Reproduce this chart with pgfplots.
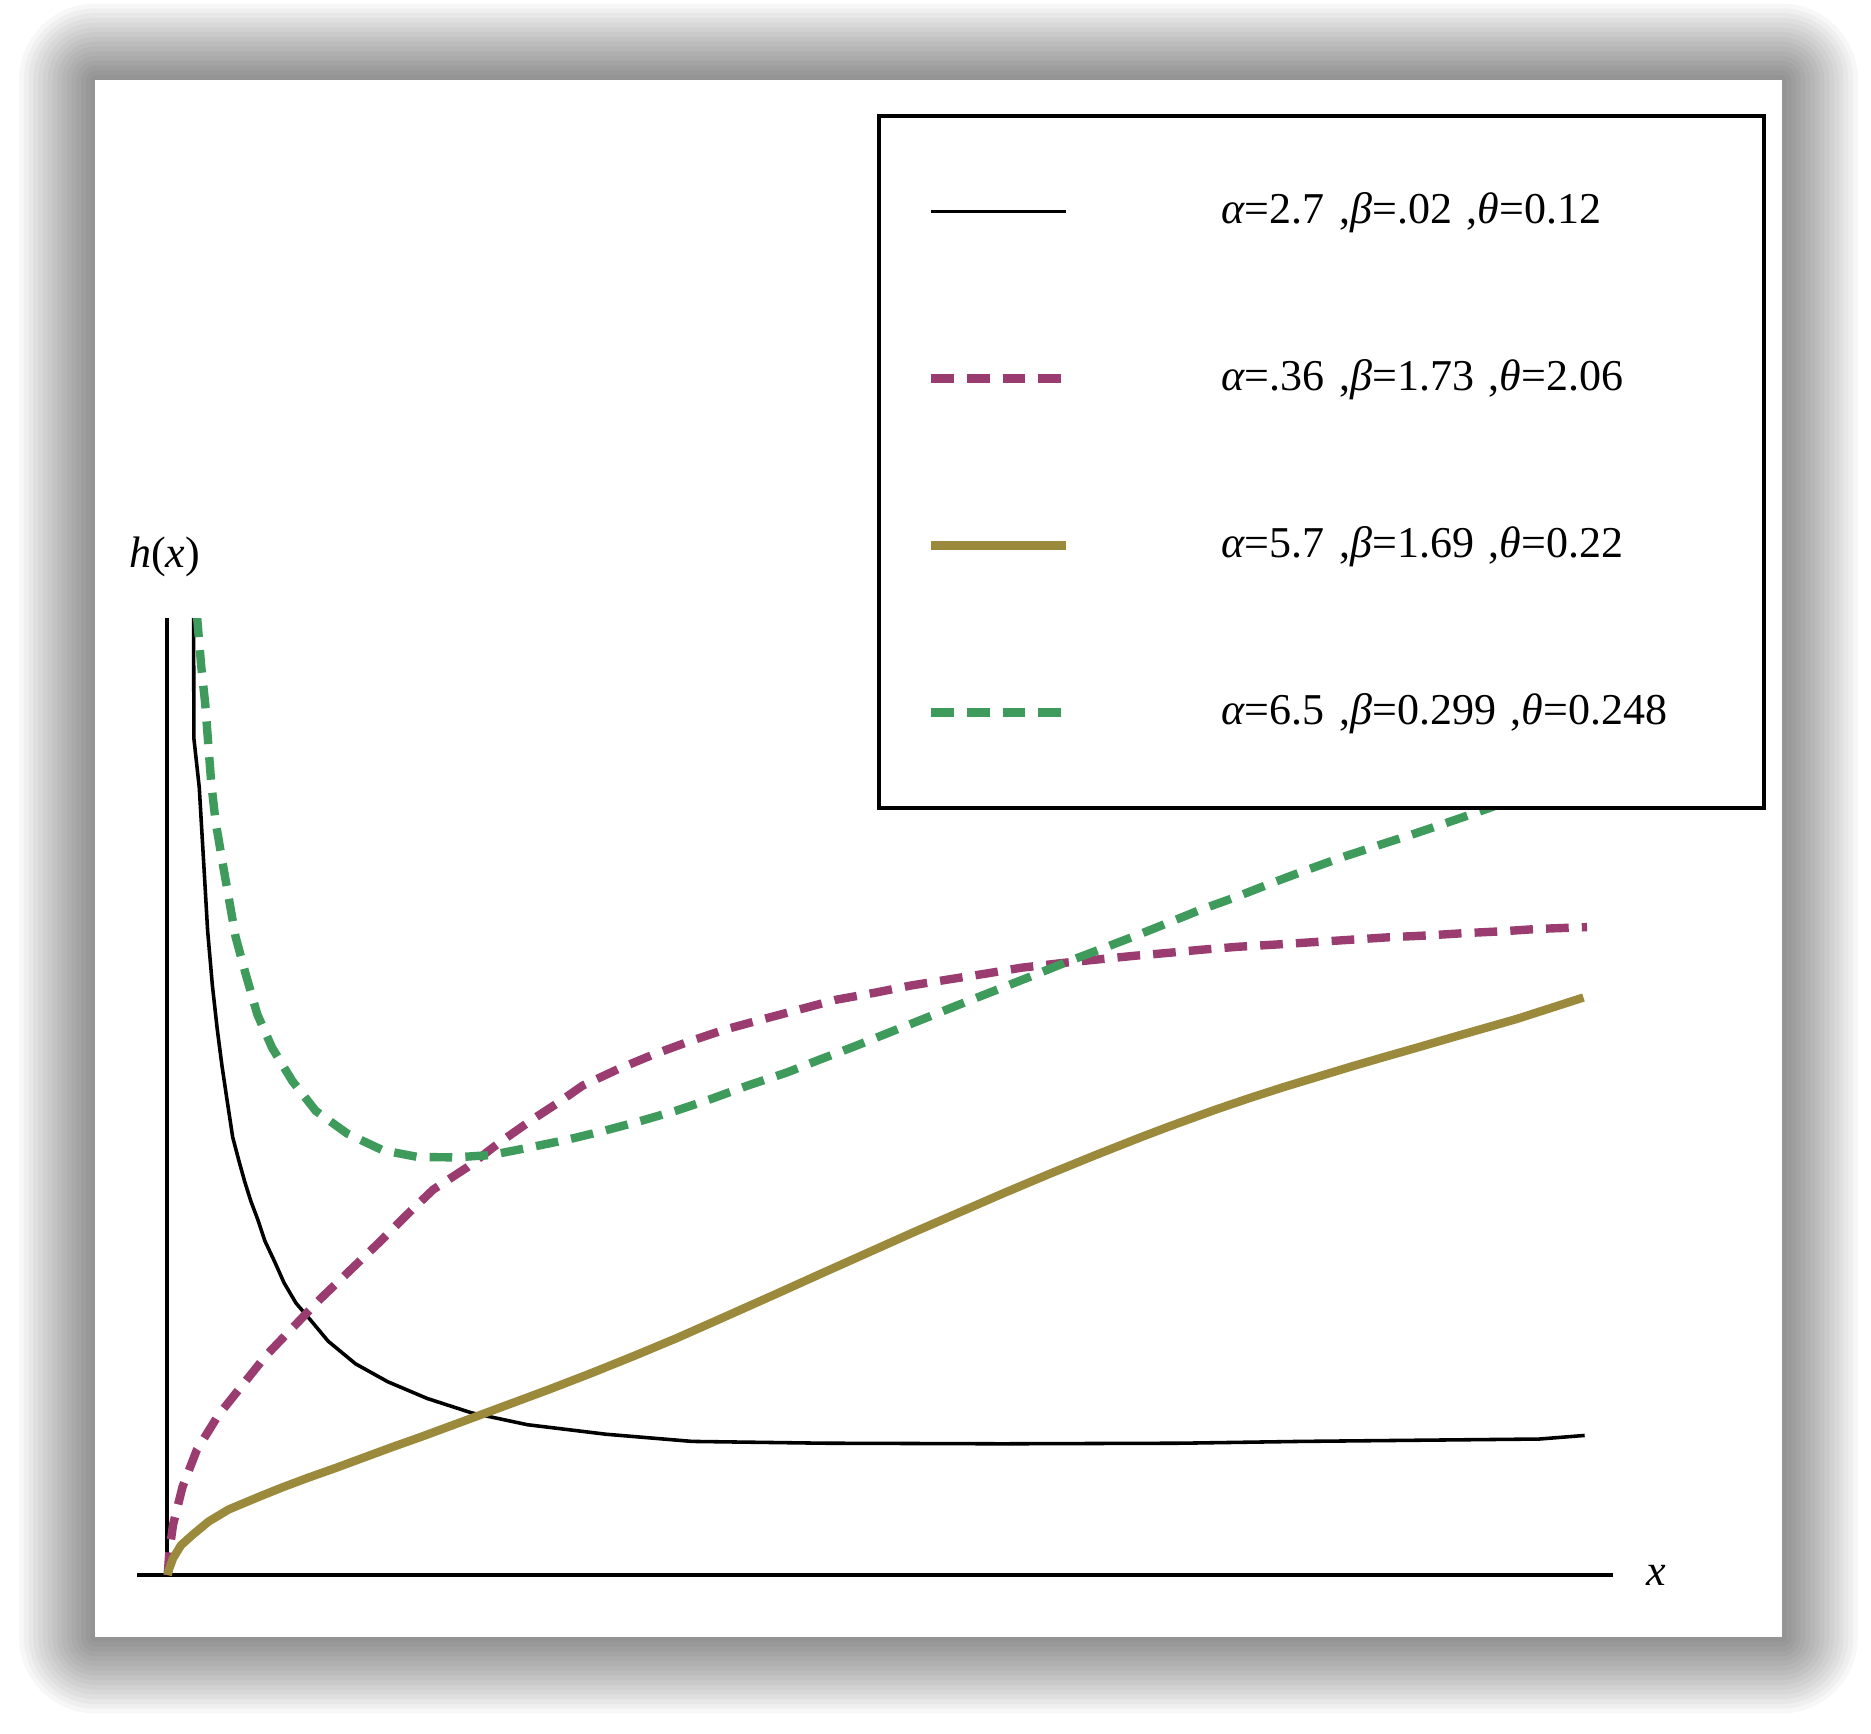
\documentclass[border=0pt]{standalone}
\usepackage{fontspec}
\setmainfont{Liberation Serif}
\usepackage{pgfplots}
\pgfplotsset{compat=1.18}
\definecolor{hmag}{HTML}{9A3C6F}
\definecolor{holive}{HTML}{9B8A3C}
\definecolor{hgreen}{HTML}{3E9B5C}
\newcommand{\gr}[1]{\textit{#1}}
\newcommand{\lfont}{\fontsize{10.5}{12}\selectfont}

\begin{document}
\begin{tikzpicture}
% page and card with a soft shadow
\fill[white] (-1.15,-1.33) rectangle (14.53,13.2);
\foreach \i in {1,...,16}{
  \pgfmathsetmacro{\dd}{0.04*\i}
  \fill[black, opacity=0.03, rounded corners=\dd cm] ({-0.35-\dd},{-0.52-\dd}) rectangle ({13.78+\dd},{12.53+\dd});
}
\fill[white] (-0.35,-0.52) rectangle (13.78,12.53);

\begin{axis}[
  scale only axis, width=12.37cm, height=8.02cm,
  xmin=-0.25, xmax=12.12, ymin=0, ymax=8.02,
  axis lines=middle, axis line style={line width=1.1pt, -},
  xtick=\empty, ytick=\empty,
  xlabel={\textit{x}}, ylabel={\textit{h}(\textit{x})},
  xlabel style={at={(axis description cs:1.029,0)}, anchor=center, font=\lfont},
  ylabel style={at={(axis description cs:0.0186,1.064)}, anchor=center, font=\lfont},
  legend image code/.code={
    \path[draw=none, fill=none] (0cm,-0.7cm) rectangle (2.31cm,0.7cm);
    \draw[#1] (0cm,0cm) -- (1.13cm,0cm);
  },
  legend cell align=left,
  legend style={at={(axis description cs:0.5012,1.527)}, anchor=north west,
    draw=black, line width=1pt, fill=white, inner xsep=0.4cm, inner ysep=0.1cm,
    row sep=0pt, font=\lfont,
    nodes={inner xsep=0.12cm, text width=4.03cm, align=left}},
]
\addplot[black, line width=0.85pt] coordinates {
 (0.222,8.20) (0.225,7.01) (0.27,6.60) (0.31,5.92) (0.34,5.40) (0.38,4.94)
 (0.42,4.58) (0.46,4.27) (0.50,4.00) (0.55,3.67) (0.60,3.48) (0.65,3.30)
 (0.70,3.14) (0.76,2.98) (0.82,2.80) (0.90,2.63) (0.98,2.45) (1.08,2.28)
 (1.20,2.14) (1.35,1.96) (1.58,1.77) (1.85,1.62) (2.18,1.48) (2.55,1.36)
 (3.02,1.26) (3.68,1.18) (4.40,1.12) (5.5,1.105) (7.0,1.10) (8.5,1.105)
 (9.5,1.12) (10.5,1.13) (11.5,1.14) (11.88,1.17)
};
\addlegendentry{\gr{α}=2.7 ,\gr{β}=.02 ,\gr{θ}=0.12}
\addplot[hmag, line width=2pt, dash pattern=on 0.19cm off 0.11cm] coordinates {
 (0.005,0.0) (0.02,0.20) (0.05,0.42) (0.13,0.74) (0.25,1.05) (0.43,1.34)
 (0.63,1.59) (0.83,1.84) (1.05,2.07) (1.28,2.31) (1.53,2.55) (1.77,2.78)
 (2.00,3.01) (2.23,3.23) (2.52,3.42) (2.78,3.62) (3.05,3.81) (3.28,3.96)
 (3.48,4.10) (3.78,4.24) (4.07,4.36) (4.37,4.47) (4.67,4.57) (5.00,4.66)
 (5.30,4.74) (5.60,4.82) (5.93,4.88) (6.23,4.94) (6.54,4.99) (6.86,5.04)
 (7.16,5.09) (7.51,5.13) (7.81,5.16) (8.11,5.19) (8.40,5.215) (8.66,5.24)
 (8.97,5.265) (9.31,5.285) (9.62,5.305) (9.93,5.325) (10.24,5.345) (10.56,5.36)
 (10.88,5.38) (11.19,5.395) (11.49,5.415) (11.90,5.43)
};
\addlegendentry{\gr{α}=.36 ,\gr{β}=1.73 ,\gr{θ}=2.06}
\addplot[holive, line width=2pt] coordinates {
 (0.005,0) (0.017,0.05) (0.05,0.14) (0.117,0.25) (0.217,0.34) (0.35,0.45)
 (0.517,0.55) (0.78,0.66) (0.98,0.74) (1.18,0.815) (1.42,0.90) (1.65,0.985)
 (1.88,1.07) (2.12,1.155) (2.35,1.24) (2.58,1.325) (2.85,1.425) (3.20,1.555)
 (3.55,1.69) (3.91,1.835) (4.27,1.985) (4.62,2.14) (5.08,2.345) (5.49,2.53)
 (5.87,2.70) (6.25,2.87) (6.63,3.035) (7.01,3.20) (7.39,3.36) (7.77,3.515)
 (8.15,3.665) (8.40,3.76) (8.80,3.905) (9.08,4.00) (9.36,4.09) (9.64,4.175)
 (9.92,4.26) (10.195,4.34) (10.475,4.42) (10.75,4.50) (11.03,4.58)
 (11.31,4.66) (11.59,4.75) (11.87,4.84)
};
\addlegendentry{\gr{α}=5.7 ,\gr{β}=1.69 ,\gr{θ}=0.22}
\addplot[hgreen, line width=2pt, dash pattern=on 0.19cm off 0.11cm] coordinates {
 (0.25,8.05) (0.286,7.62) (0.32,7.30) (0.345,6.97) (0.37,6.64) (0.406,6.32)
 (0.46,6.00) (0.518,5.67) (0.574,5.35) (0.658,5.04) (0.756,4.70) (0.88,4.42)
 (1.05,4.14) (1.246,3.89) (1.51,3.70) (1.807,3.56) (2.10,3.504) (2.41,3.50)
 (2.717,3.52) (3.04,3.584) (3.36,3.65) (3.65,3.72) (3.95,3.80) (4.26,3.89)
 (4.56,3.99) (4.86,4.10) (5.19,4.21) (5.47,4.32) (5.76,4.43) (6.06,4.55)
 (6.35,4.665) (6.65,4.785) (6.955,4.905) (7.26,5.025) (7.545,5.14) (7.85,5.255)
 (8.15,5.37) (8.40,5.47) (8.66,5.575) (8.966,5.685) (9.246,5.795) (9.54,5.905)
 (9.846,6.015) (10.15,6.115) (10.46,6.215) (10.77,6.32) (11.03,6.41)
 (11.5,6.58) (11.88,6.72)
};
\addlegendentry{\gr{α}=6.5 ,\gr{β}=0.299 ,\gr{θ}=0.248}
\end{axis}
\end{tikzpicture}
\end{document}
